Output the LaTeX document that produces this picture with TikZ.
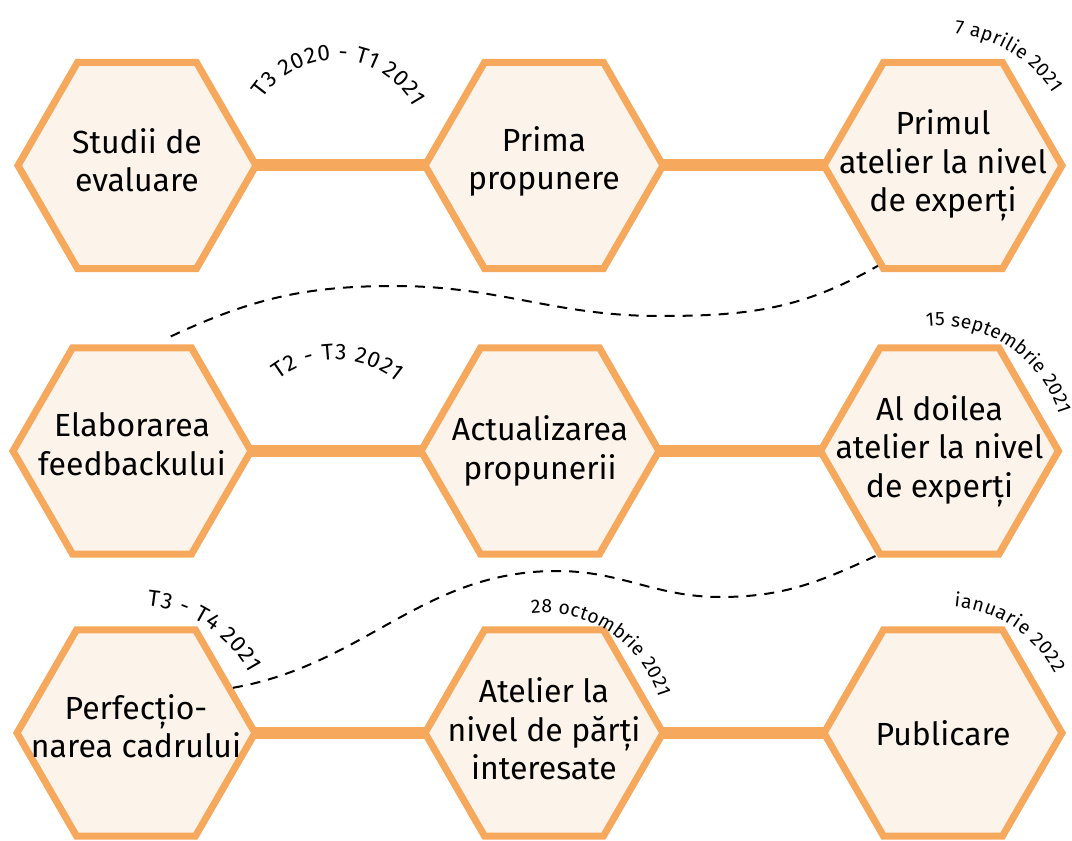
\documentclass[tikz,border=0pt]{standalone}
\usepackage{fontspec}
\setmainfont{Fira Sans}
\usetikzlibrary{shapes.geometric,decorations.text,backgrounds}
\definecolor{hexorange}{HTML}{F6A85D}
\definecolor{hexfill}{HTML}{FCF4EA}
\newcommand\mainsize{\fontsize{24}{29}\selectfont}
\newcommand\datesize{\fontsize{14.5}{17}\selectfont}
\newcommand\quartsize{\fontsize{17}{20}\selectfont}
\begin{document}
\begin{tikzpicture}[x=0.75pt,y=0.75pt,
  hex/.style={regular polygon, regular polygon sides=6, minimum size=178.5pt,
    draw=hexorange, fill=hexfill, line width=5.25pt, inner sep=0pt},
  txt/.style={align=center, font=\mainsize, text=black, inner sep=0pt},
  bar/.style={draw=hexorange, line width=9pt},
  dashline/.style={draw=black, line width=1.5pt, dash pattern=on 7.5pt off 6pt}]
\useasboundingbox (0,0) rectangle (1072,-841);

% hexagons
\node[hex] (h11) at (137,-165.5) {};
\node[hex] (h12) at (544,-165.5) {};
\node[hex] (h13) at (943,-165.5) {};
\node[hex] (h21) at (132,-451) {};
\node[hex] (h22) at (540,-451) {};
\node[hex] (h23) at (939.5,-451) {};
\node[hex] (h31) at (136,-733) {};
\node[hex] (h32) at (544,-733) {};
\node[hex] (h33) at (943,-733) {};

% texts
\node[txt] (t11) at ([yshift=4pt]h11) {Studii de\\evaluare};
\node[txt] (t12) at ([yshift=3pt]h12) {Prima\\propunere};
\node[txt] (t13) at (h13) {Primul\\atelier la nivel\\de experți};
\node[txt] (t21) at ([yshift=5pt]h21) {Elaborarea\\feedbackului};
\node[txt] (t22) at (h22) {Actualizarea\\propunerii};
\node[txt] (t23) at (h23) {Al doilea\\atelier la nivel\\de experți};
\node[txt] (t31) at ([yshift=5pt]h31) {Perfecțio-\\narea cadrului};
\node[txt] (t32) at ([yshift=3pt]h32) {Atelier la\\nivel de părți\\interesate};
\node[txt] (t33) at (h33) {Publicare};

% bars
\begin{scope}[on background layer]
\draw[bar] (h11.center) -- (h12.center);
\draw[bar] (h12.center) -- (h13.center);
\draw[bar] (h21.center) -- (h22.center);
\draw[bar] (h22.center) -- (h23.center);
\draw[bar] (h31.center) -- (h32.center);
\draw[bar] (h32.center) -- (h33.center);
\end{scope}

% dashed connectors
\draw[dashline] ([yshift=6pt]h21.70) to[out=25,in=180] (395,-286)
  to[out=0,in=180] (659,-316) to[out=0,in=210] (h13.237);
\draw[dashline] (h31.25) to[out=10,in=180] (557,-571)
  to[out=0,in=180] (720,-597) to[out=0,in=205] (h23.239);

% curved labels
\path[decorate, decoration={text along path, text align=fit to path, text color=black,
  text={|\quartsize|T3 2020 - T1 2021}}]
  (336,-148) ++(146:88) arc[start angle=146, end angle=28, radius=88];
\path[decorate, decoration={text along path, text align=fit to path, text color=black,
  text={|\datesize|7 aprilie 2021}}]
  ([shift={(85:132)}]h13.center) arc[start angle=85, end angle=33, radius=132];
\path[decorate, decoration={text along path, text align=fit to path, text color=black,
  text={|\quartsize|T2 - T3 2021}}]
  (336,-454) ++(128:94) arc[start angle=128, end angle=50, radius=94];
\path[decorate, decoration={text along path, text align=fit to path, text color=black,
  text={|\datesize|15 septembrie 2021}}]
  ([shift={(96:125)}]h23.center) arc[start angle=96, end angle=17, radius=125];
\path[decorate, decoration={text along path, text align=fit to path, text color=black,
  text={|\quartsize|T3 - T4 2021}}]
  ([shift={(85:128)}]h31.center) arc[start angle=85, end angle=28, radius=128];
\path[decorate, decoration={text along path, text align=fit to path, text color=black,
  text={|\datesize|28 octombrie 2021}}]
  ([shift={(96:120)}]h32.center) arc[start angle=96, end angle=17, radius=120];
\path[decorate, decoration={text along path, text align=fit to path, text color=black,
  text={|\datesize|ianuarie 2022}}]
  ([shift={(85:127)}]h33.center) arc[start angle=85, end angle=28, radius=127];
\end{tikzpicture}
\end{document}
